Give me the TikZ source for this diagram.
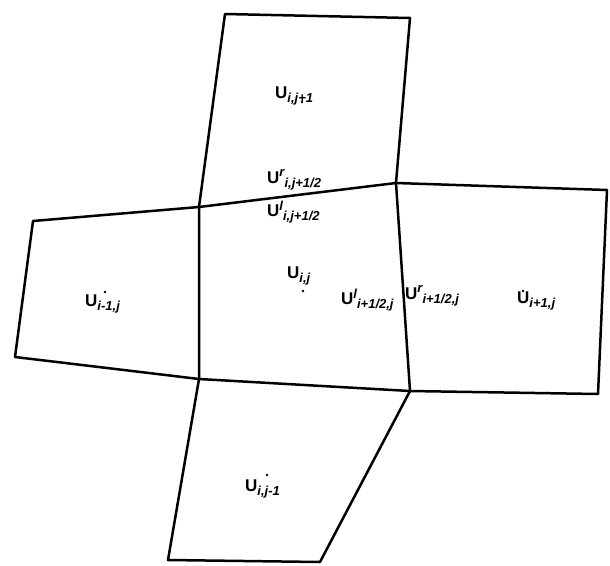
\documentclass[tikz,border=0pt]{standalone}
\usepackage{fontspec}
\setmainfont{Liberation Sans}
\newcommand{\Usub}[1]{U\raisebox{-0.22em}{\fontsize{13}{13}\selectfont\bfseries\itshape #1}}
\newcommand{\Usup}[2]{U\raisebox{0.40em}{\fontsize{13}{13}\selectfont\bfseries\itshape #1}\raisebox{-0.22em}{\fontsize{13}{13}\selectfont\bfseries\itshape #2}}
\begin{document}
\begin{tikzpicture}[x=1pt,y=-1pt,
  edge/.style={line width=2.5pt,line join=round,line cap=round},
  lab/.style={font=\fontsize{17}{19}\selectfont\bfseries,inner sep=0pt,anchor=west},
  ctr/.style={circle,fill=black,inner sep=0pt,minimum size=2.6pt}]
\useasboundingbox (0,0) rectangle (610,565);
% vertices
\coordinate (A) at (199,207);
\coordinate (B) at (396,183);
\coordinate (C) at (410,391);
\coordinate (D) at (199,379);
\coordinate (T1) at (225,14);
\coordinate (T2) at (410,18);
\coordinate (R1) at (607,190);
\coordinate (R2) at (598,394);
\coordinate (L1) at (33,221);
\coordinate (L2) at (15,357);
\coordinate (B1) at (168,560);
\coordinate (B2) at (320,562);
% cells
\draw[edge] (A)--(B)--(C)--(D)--cycle;
\draw[edge] (A)--(T1)--(T2)--(B);
\draw[edge] (B)--(R1)--(R2)--(C);
\draw[edge] (A)--(L1)--(L2)--(D);
\draw[edge] (D)--(B1)--(B2)--(C);
% cell centres
\node[ctr] (cN) at (302,102) {};
\node[ctr] (cC) at (303,291) {};
\node[ctr] (cE) at (523,291) {};
\node[ctr] (cW) at (105,292) {};
\node[ctr] (cS) at (267,475) {};
% labels
\node[lab] (uN) at (275,96) {\Usub{i,j+1}};
\node[lab] (uC) at (287,276) {\Usub{i,j}};
\node[lab] (uE) at (517,301) {\Usub{i+1,j}};
\node[lab] (uW) at (85,304) {\Usub{i-1,j}};
\node[lab] (uS) at (245,489) {\Usub{i,j-1}};
\node[lab] (uTr) at (267,180) {\Usup{r}{i,j+1/2}};
\node[lab] (uTl) at (267,212) {\Usup{l}{i,j+1/2}};
\node[lab] (uRl) at (341,300) {\Usup{l}{i+1/2,j}};
\node[lab] (uRr) at (405,296) {\Usup{r}{i+1/2,j}};
\end{tikzpicture}
\end{document}
